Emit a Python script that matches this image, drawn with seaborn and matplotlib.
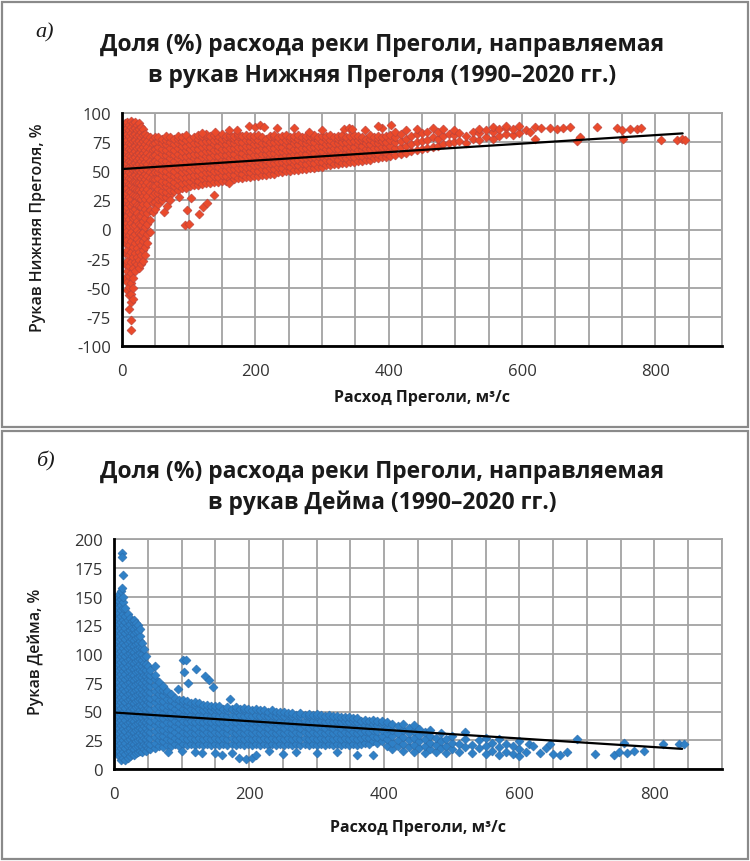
import matplotlib
matplotlib.use("Agg")
import matplotlib.pyplot as plt
import seaborn as sns
import pandas as pd
from matplotlib.patches import Rectangle
from matplotlib.ticker import MultipleLocator

# ---------------- data: panel a) Нижняя Преголя ----------------
nb_flow = [3, 5, 8, 11, 14, 17, 20, 23, 26, 29, 32, 35, 38, 42, 46, 50,
           54, 60, 66, 72, 78, 84, 90, 96, 102, 108, 114, 120, 126, 132, 138, 144,
           150, 156, 162, 168, 174, 180, 186, 192, 198, 204, 210, 216, 222, 228, 234, 240,
           246, 252, 258, 264, 270, 276, 282, 288, 294, 300, 306, 312, 318, 324, 330, 336,
           342, 348, 354, 360, 366, 372, 378, 384, 390, 396,
           402, 410, 418, 426, 434, 442, 450, 458, 466, 474, 482, 490, 498, 506, 516, 526,
           536, 546, 556, 566, 576, 586, 596]
nb_share = [
    [88, 83, 78, 73, 68, 63, 58, 53, 48, 43, 38, 33, 27, 21, 14, 8, 2, -6],
    [91, 85, 80, 75, 70, 65, 60, 55, 50, 45, 40, 35, 30, 24, 18, 11, -3, -12, -20, -30, -42],
    [92, 87, 82, 77, 72, 67, 62, 57, 52, 47, 42, 36, 31, 25, 19, 12, 6, -1, -9, -18, -27, -36, -45, -52],
    [90, 85, 80, 74, 69, 64, 59, 54, 49, 44, 39, 33, 28, 22, 15, 9, 3, -5, -13, -22, -31, -40, -49, -56, -68],
    [93, 88, 83, 78, 73, 68, 63, 58, 53, 48, 43, 38, 32, 26, 20, 13, 6, -2, -10, -19, -28, -37, -46, -55, -62, -78, -86],
    [91, 86, 81, 76, 71, 66, 61, 56, 51, 46, 41, 36, 30, 23, 17, 10, 3, -6, -15, -24, -33, -42, -50, -60],
    [92, 87, 82, 77, 72, 67, 62, 57, 52, 47, 41, 35, 29, 24, 18, 11, 4, -4, -12, -20, -28, -36],
    [90, 85, 80, 75, 70, 65, 60, 55, 50, 45, 40, 34, 28, 21, 14, 7, 0, -8, -16, -24, -30],
    [91, 86, 81, 76, 71, 66, 61, 56, 51, 46, 40, 34, 27, 20, 12, 5, -3, -11, -19, -26, -33],
    [88, 84, 79, 74, 69, 64, 59, 54, 49, 44, 38, 32, 26, 19, 12, 4, -4, -13, -22, -30],
    [86, 81, 76, 71, 66, 61, 56, 51, 46, 41, 35, 29, 22, 15, 7, -2, -10, -18, -27],
    [82, 78, 73, 68, 63, 58, 53, 48, 43, 38, 32, 26, 18, 10, 2, -7, -15, -22],
    [80, 76, 71, 66, 61, 56, 51, 46, 41, 35, 29, 22, 14, 5, -4, -12],
    [79, 74, 69, 64, 59, 54, 49, 44, 38, 32, 25, 17, 8, -2],
    [78, 73, 68, 63, 58, 53, 48, 43, 37, 30, 23, 15],
    [79, 74, 69, 64, 59, 54, 49, 43, 37, 31, 24, 18],
    [22, 26, 31, 35, 40, 44, 49, 53, 58, 62, 67, 71, 76, 79],
    [25, 29, 33, 38, 42, 47, 51, 56, 60, 65, 69, 74, 78],
    [28, 32, 37, 41, 46, 50, 55, 59, 64, 68, 73, 77, 80],
    [30, 34, 39, 43, 48, 52, 57, 61, 66, 70, 75, 79],
    [33, 37, 41, 46, 50, 55, 59, 64, 68, 73, 78],
    [34, 38, 43, 47, 52, 56, 61, 65, 70, 74, 78, 80],
    [36, 40, 45, 49, 54, 58, 63, 67, 72, 76, 79],
    [36, 41, 45, 50, 54, 59, 63, 68, 72, 77, 81],
    [37, 42, 46, 51, 55, 60, 64, 69, 73, 78],
    [38, 43, 47, 52, 56, 61, 65, 70, 74, 79],
    [38, 42, 47, 51, 56, 60, 65, 69, 74, 78, 81],
    [39, 44, 48, 53, 57, 62, 66, 71, 75, 80],
    [40, 45, 49, 54, 58, 63, 67, 72, 76, 80, 82],
    [40, 44, 49, 53, 58, 62, 67, 71, 76, 80],
    [41, 46, 50, 55, 59, 64, 68, 73, 77, 81],
    [41, 45, 50, 54, 59, 63, 68, 72, 77, 80],
    [42, 47, 51, 56, 60, 65, 69, 74, 78, 82],
    [42, 46, 51, 55, 60, 64, 69, 73, 78, 80],
    [43, 48, 52, 57, 61, 66, 70, 75, 79, 81],
    [43, 47, 52, 56, 61, 65, 70, 74, 78, 80],
    [44, 49, 53, 58, 62, 67, 71, 76, 80, 82],
    [44, 48, 53, 57, 62, 66, 71, 75, 80],
    [45, 50, 54, 59, 63, 68, 72, 77, 81],
    [45, 49, 54, 58, 63, 67, 72, 76, 80],
    [46, 51, 55, 60, 64, 69, 73, 78, 80],
    [46, 50, 55, 59, 64, 68, 73, 77, 81],
    [47, 52, 56, 61, 65, 70, 74, 79],
    [47, 51, 56, 60, 65, 69, 74, 78],
    [48, 53, 57, 62, 66, 71, 75, 80],
    [48, 52, 57, 61, 66, 70, 75, 79, 81],
    [49, 54, 58, 63, 67, 72, 76, 79],
    [49, 53, 58, 62, 67, 71, 76, 80],
    [50, 55, 59, 64, 68, 73, 77, 81],
    [50, 54, 59, 63, 68, 72, 77, 79],
    [51, 56, 60, 65, 69, 74, 78, 80],
    [51, 55, 60, 64, 69, 73, 78, 81],
    [52, 57, 61, 66, 70, 75, 79],
    [52, 56, 61, 65, 70, 74, 78, 80],
    [53, 58, 62, 67, 71, 76, 80],
    [53, 57, 62, 66, 71, 75, 79, 81],
    [54, 59, 63, 68, 72, 77, 79],
    [54, 58, 63, 67, 72, 76, 80],
    [55, 60, 64, 69, 73, 78, 80],
    [55, 59, 64, 68, 73, 77, 81],
    [56, 61, 65, 70, 74, 79],
    [56, 60, 65, 69, 74, 78, 80],
    [57, 62, 66, 71, 75, 79, 81],
    [57, 61, 66, 70, 75, 79],
    [58, 63, 67, 72, 76, 80],
    [58, 62, 67, 71, 76, 81],
    [59, 64, 68, 73, 77, 80],
    [59, 63, 68, 72, 77, 79],
    [60, 65, 69, 74, 78],
    [60, 64, 69, 73, 78, 81],
    [61, 66, 70, 75, 79],
    [61, 65, 70, 74, 78, 80],
    [62, 67, 71, 76, 79],
    [62, 66, 71, 75, 80],
    [63, 68, 72, 77, 81],
    [64, 70, 75, 79, 84],
    [65, 71, 76, 82],
    [66, 72, 78, 85],
    [67, 73, 80],
    [68, 75, 82, 86],
    [69, 76, 83],
    [70, 77, 84],
    [71, 79, 87],
    [72, 78, 84],
    [73, 80, 86],
    [74, 82],
    [75, 81, 85],
    [76, 83],
    [74, 80],
    [78, 84],
    [77, 83, 86],
    [79, 85],
    [78, 84, 88],
    [80, 86],
    [82, 87, 89],
    [81, 86],
    [83, 89],
]
nb_out_x = [173, 190, 200, 207, 213, 233, 258, 140, 120, 160, 280, 300, 333, 340, 345, 390,
            384, 404, 365, 95, 100, 98, 103, 115, 122, 128, 138, 160, 63, 68, 72, 85,
            606, 612, 620, 620, 628, 642, 652, 662, 672, 682, 687, 712, 742, 750, 752,
            762, 772, 779, 809, 832, 840, 845]
nb_out_y = [85, 89, 88, 90, 88, 87, 87, 84, 83, 85, 84, 85, 86, 87, 86, 87,
            89, 90, 85, 4, 5, 17, 27, 13, 19, 23, 30, 40, 15, 20, 25, 28,
            85, 84, 78, 88, 87, 87, 86, 87, 88, 76, 79, 88, 87, 85, 78,
            86, 86, 87, 77, 77, 78, 77]
nb_trend_x = [3, 841]
nb_trend_y = [52, 82.5]

# ---------------- data: panel б) Дейма ----------------
de_flow = [5, 8, 11, 14, 17, 20, 23, 26, 29, 32, 35, 38, 41, 44, 47, 50,
           54, 60, 66, 72, 78, 84, 90, 96, 102, 108, 114, 120, 126, 132, 138, 144,
           150, 156, 162, 168, 174, 180, 186, 192, 198, 204, 210, 216, 222, 228, 234, 240,
           246, 252, 258, 264, 270, 276, 282, 288, 294, 300, 306, 312, 318, 324, 330, 336,
           342, 348, 354, 360, 366, 372, 378, 384, 390, 396,
           404, 412, 420, 428, 436, 444, 452, 460, 468, 476, 484, 492, 500, 510, 520, 530,
           540, 550, 560, 570, 580, 590, 600]
de_share = [
    [14, 19, 24, 29, 34, 39, 44, 49, 54, 59, 64, 69, 74, 79, 84, 89, 94, 99, 104, 109, 114, 119, 124, 129, 134, 139, 144, 148],
    [11, 16, 21, 26, 31, 36, 41, 46, 51, 56, 61, 66, 71, 76, 81, 86, 91, 96, 101, 106, 111, 116, 121, 126, 131, 136, 141, 146, 152],
    [8, 13, 18, 23, 28, 33, 38, 43, 48, 53, 58, 63, 68, 73, 78, 83, 88, 93, 98, 103, 108, 113, 118, 123, 128, 133, 138, 143, 148, 155],
    [10, 15, 20, 25, 30, 35, 40, 45, 50, 55, 60, 65, 70, 75, 80, 85, 90, 95, 100, 105, 110, 115, 120, 125, 130, 135, 140, 145, 150],
    [8, 13, 18, 23, 28, 33, 38, 43, 48, 53, 58, 63, 68, 73, 78, 83, 88, 93, 98, 103, 108, 113, 118, 123, 128, 133, 140],
    [10, 15, 20, 25, 30, 35, 40, 45, 50, 55, 60, 65, 70, 75, 80, 85, 90, 95, 100, 105, 110, 115, 120, 125, 130, 135],
    [11, 16, 21, 26, 31, 36, 41, 46, 51, 56, 61, 66, 71, 76, 81, 86, 91, 96, 101, 106, 111, 116, 121, 126, 131],
    [13, 18, 23, 28, 33, 38, 43, 48, 53, 58, 63, 68, 73, 78, 83, 88, 93, 98, 103, 108, 113, 118, 123, 129],
    [12, 17, 22, 27, 32, 37, 42, 47, 52, 57, 62, 67, 72, 77, 82, 87, 92, 97, 102, 107, 112, 117, 122, 127, 130],
    [14, 19, 24, 29, 34, 39, 44, 49, 54, 59, 64, 69, 74, 79, 84, 89, 94, 99, 104, 109, 114, 119, 124, 127],
    [15, 20, 25, 30, 35, 40, 45, 50, 55, 60, 65, 70, 75, 80, 85, 90, 95, 100, 105, 110, 115, 120, 125],
    [16, 21, 26, 31, 36, 41, 46, 51, 56, 61, 66, 71, 76, 81, 86, 91, 96, 101, 106, 111, 116, 122],
    [15, 20, 25, 30, 35, 40, 45, 50, 55, 60, 65, 70, 75, 80, 85, 90, 95, 100, 105, 110],
    [17, 22, 27, 32, 37, 42, 47, 52, 57, 62, 67, 72, 77, 82, 87, 92, 97, 104],
    [16, 21, 26, 31, 36, 41, 46, 51, 56, 61, 66, 71, 76, 81, 86, 91, 98],
    [18, 23, 28, 33, 38, 43, 48, 53, 58, 63, 68, 73, 78, 83, 90],
    [17, 22, 27, 32, 37, 42, 47, 52, 57, 62, 67, 72, 77, 82, 86],
    [18, 23, 28, 33, 38, 43, 48, 53, 58, 63, 68, 73, 78, 82],
    [20, 25, 30, 35, 40, 45, 50, 55, 60, 65, 70, 76],
    [19, 24, 29, 34, 39, 44, 49, 54, 59, 64, 69, 72],
    [21, 26, 31, 36, 41, 46, 51, 56, 61, 66, 68],
    [20, 25, 30, 35, 40, 45, 50, 55, 60, 65],
    [22, 27, 32, 37, 42, 47, 52, 57, 62],
    [20, 25, 30, 35, 40, 45, 50, 55, 60],
    [22, 27, 32, 37, 42, 47, 52, 57, 60],
    [21, 26, 31, 36, 41, 46, 51, 56, 59],
    [22, 27, 32, 37, 42, 47, 52, 57],
    [21, 26, 31, 36, 41, 46, 51, 56, 58],
    [22, 27, 32, 37, 42, 47, 52, 57],
    [21, 26, 31, 36, 41, 46, 51, 56],
    [22, 27, 32, 37, 42, 47, 52, 56],
    [21, 26, 31, 36, 41, 46, 51, 55],
    [22, 27, 32, 37, 42, 47, 52, 55],
    [21, 26, 31, 36, 41, 46, 51, 55],
    [22, 27, 32, 37, 42, 47, 52],
    [21, 26, 31, 36, 41, 46, 51, 54],
    [22, 27, 32, 37, 42, 47, 52],
    [21, 26, 31, 36, 41, 46, 51, 54],
    [22, 27, 32, 37, 42, 47, 52],
    [21, 26, 31, 36, 41, 46, 51, 53],
    [22, 27, 32, 37, 42, 47, 52],
    [21, 26, 31, 36, 41, 46, 51],
    [22, 27, 32, 37, 42, 47, 52],
    [21, 26, 31, 36, 41, 46, 51],
    [22, 27, 32, 37, 42, 47, 51],
    [21, 26, 31, 36, 41, 46, 50],
    [22, 27, 32, 37, 42, 47, 51],
    [21, 26, 31, 36, 41, 46, 50],
    [22, 27, 32, 37, 42, 47, 50],
    [21, 26, 31, 36, 41, 46, 50],
    [22, 27, 32, 37, 42, 47, 49],
    [21, 26, 31, 36, 41, 46, 49],
    [22, 27, 32, 37, 42, 47],
    [21, 26, 31, 36, 41, 46, 49],
    [22, 27, 32, 37, 42, 47],
    [21, 26, 31, 36, 41, 46, 48],
    [22, 27, 32, 37, 42, 47],
    [21, 26, 31, 36, 41, 46, 48],
    [22, 27, 32, 37, 42, 47],
    [21, 26, 31, 36, 41, 46],
    [22, 27, 32, 37, 42, 47],
    [21, 26, 31, 36, 41, 46],
    [22, 27, 32, 37, 42, 46],
    [21, 26, 31, 36, 41, 45],
    [22, 27, 32, 37, 42, 45],
    [21, 26, 31, 36, 41, 45],
    [22, 27, 32, 37, 42, 44],
    [21, 26, 31, 36, 41, 44],
    [22, 27, 32, 37, 42],
    [23, 28, 33, 38, 43],
    [22, 27, 32, 37, 42],
    [24, 29, 34, 39, 43],
    [23, 28, 33, 38, 42],
    [24, 29, 34, 39, 42],
    [20, 26, 31, 36, 41],
    [17, 23, 29, 34, 39],
    [20, 25, 31, 37],
    [16, 22, 28, 34, 39],
    [19, 25, 31, 36],
    [15, 21, 27, 33, 38],
    [18, 24, 30, 35],
    [14, 20, 26, 32],
    [17, 23, 29, 34],
    [15, 21, 27],
    [18, 24, 31],
    [14, 20, 26],
    [17, 23, 29],
    [15, 22],
    [19, 26, 32],
    [14, 21],
    [18, 25],
    [13, 20, 27],
    [16, 23],
    [12, 19, 26],
    [15, 22],
    [13, 20],
    [11, 17, 24],
]
de_out_x = [12, 12, 13, 12, 102, 107, 103, 110, 122, 135, 140, 147, 172, 95, 60,
            150, 160, 175, 185, 195, 205, 210, 230, 250, 270, 300, 330, 360, 384, 120, 130, 100, 80,
            610, 615, 620, 630, 640, 645, 650, 660, 670, 686, 712, 740, 748, 755, 760,
            770, 785, 812, 837, 844]
de_out_y = [188, 184, 169, 157, 95, 95, 84, 75, 87, 81, 77, 71, 61, 70, 90,
            14, 12, 14, 10, 9, 10, 12, 16, 13, 15, 14, 15, 12, 12, 15, 14, 16, 15,
            15, 22, 20, 14, 18, 22, 13, 12, 15, 26, 13, 12, 15, 23, 14,
            16, 16, 22, 22, 22]
de_trend_x = [3, 841]
de_trend_y = [49, 17.5]

# ---------------- text ----------------
title_a = ["Доля (%) расхода реки Преголи, направляемая",
           "в рукав Нижняя Преголя (1990–2020 гг.)"]
title_b = ["Доля (%) расхода реки Преголи, направляемая",
           "в рукав Дейма (1990–2020 гг.)"]
ylabel_a = "Рукав Нижняя Преголя, %"
ylabel_b = "Рукав Дейма, %"
xlabel = "Расход Преголи, м³/с"


def flatten(flows, shares):
    xs, ys = [], []
    for x, col in zip(flows, shares):
        xs += [x] * len(col)
        ys += list(col)
    return xs, ys


sns.set_theme(style="white")
plt.rcParams["font.family"] = ["Open Sans", "DejaVu Sans"]
plt.rcParams["axes.unicode_minus"] = False

fig = plt.figure(figsize=(7.5, 8.62), dpi=100)
ax1 = fig.add_axes([122 / 750, 1 - 347 / 862, 600 / 750, 233 / 862])
ax2 = fig.add_axes([114 / 750, 1 - 770 / 862, 608 / 750, 230 / 862])

GRID = "#a3a3a3"
TICK_TXT = "#333333"


def draw(ax, flows, shares, ox, oy, tx, ty, face, edge, ylim, ystep):
    xs, ys = flatten(flows, shares)
    df = pd.DataFrame({"x": xs + ox, "y": ys + oy})
    sns.scatterplot(data=df, x="x", y="y", marker="D", s=21, color=face,
                    edgecolor=edge, linewidth=0.4, ax=ax, zorder=3)
    sns.lineplot(x=tx, y=ty, color="black", linewidth=1.6, ax=ax, zorder=4)
    ax.set_xlim(0, 900)
    ax.set_ylim(*ylim)
    ax.xaxis.set_major_locator(MultipleLocator(200))
    ax.xaxis.set_minor_locator(MultipleLocator(50))
    ax.yaxis.set_major_locator(MultipleLocator(ystep))
    ax.grid(which="minor", axis="x", color=GRID, linewidth=1.3)
    ax.grid(which="major", axis="x", color=GRID, linewidth=1.3)
    ax.grid(which="major", axis="y", color=GRID, linewidth=1.3)
    ax.set_axisbelow(True)
    ax.tick_params(axis="x", which="major", direction="in", length=6, width=1.8,
                   color="black", labelsize=12, labelcolor=TICK_TXT, pad=12)
    ax.tick_params(axis="x", which="minor", length=0)
    ax.tick_params(axis="y", which="major", direction="in", length=4, width=1.5,
                   color="black", labelsize=12, labelcolor=TICK_TXT, pad=8)
    for side in ("left", "bottom"):
        ax.spines[side].set_color("black")
        ax.spines[side].set_linewidth(2)
        ax.spines[side].set_zorder(5)
    for side in ("top", "right"):
        ax.spines[side].set_color(GRID)
        ax.spines[side].set_linewidth(1.3)
    ax.set_xlabel("")
    ax.set_ylabel("")


draw(ax1, nb_flow, nb_share, nb_out_x, nb_out_y, nb_trend_x, nb_trend_y,
     "#ea4a2b", "#b5413c", (-100, 100), 25)
draw(ax2, de_flow, de_share, de_out_x, de_out_y, de_trend_x, de_trend_y,
     "#2f80c6", "#2a6aa8", (0, 200), 25)

# titles and labels
TITLE_C = "#1a1a1a"
cx = 382 / 750
TS = 16.5
fig.text(cx, 1 - 45 / 862, title_a[0], ha="center", va="center", fontsize=TS,
         fontweight="bold", color=TITLE_C)
fig.text(cx, 1 - 76 / 862, title_a[1], ha="center", va="center", fontsize=TS,
         fontweight="bold", color=TITLE_C)
fig.text(cx, 1 - 472 / 862, title_b[0], ha="center", va="center", fontsize=TS,
         fontweight="bold", color=TITLE_C)
fig.text(cx, 1 - 503 / 862, title_b[1], ha="center", va="center", fontsize=TS,
         fontweight="bold", color=TITLE_C)

fig.text(45 / 750, 1 - 33 / 862, "а)", ha="center", va="center", fontsize=16,
         style="italic", family=["Liberation Serif", "DejaVu Serif"], color=TITLE_C)
fig.text(45 / 750, 1 - 461 / 862, "б)", ha="center", va="center", fontsize=16,
         style="italic", family=["Liberation Serif", "DejaVu Serif"], color=TITLE_C)

fig.text(38 / 750, 1 - 228 / 862, ylabel_a, rotation=90, ha="center", va="center",
         fontsize=11.5, fontweight="semibold", color=TITLE_C)
fig.text(36 / 750, 1 - 652 / 862, ylabel_b, rotation=90, ha="center", va="center",
         fontsize=11.5, fontweight="semibold", color=TITLE_C)
fig.text(422 / 750, 1 - 398 / 862, xlabel, ha="center", va="center",
         fontsize=11.5, fontweight="bold", color=TITLE_C)
fig.text(418 / 750, 1 - 828 / 862, xlabel, ha="center", va="center",
         fontsize=11.5, fontweight="bold", color=TITLE_C)

# panel frames
fig.add_artist(Rectangle((2 / 750, 1 - 428 / 862), 746 / 750, 425 / 862,
                         transform=fig.transFigure, fill=False,
                         edgecolor="#8a8a8a", linewidth=1.6))
fig.add_artist(Rectangle((2 / 750, 1 - 860 / 862), 746 / 750, 428 / 862,
                         transform=fig.transFigure, fill=False,
                         edgecolor="#8a8a8a", linewidth=1.6))

fig.savefig("out.png", dpi=100, facecolor="white")
